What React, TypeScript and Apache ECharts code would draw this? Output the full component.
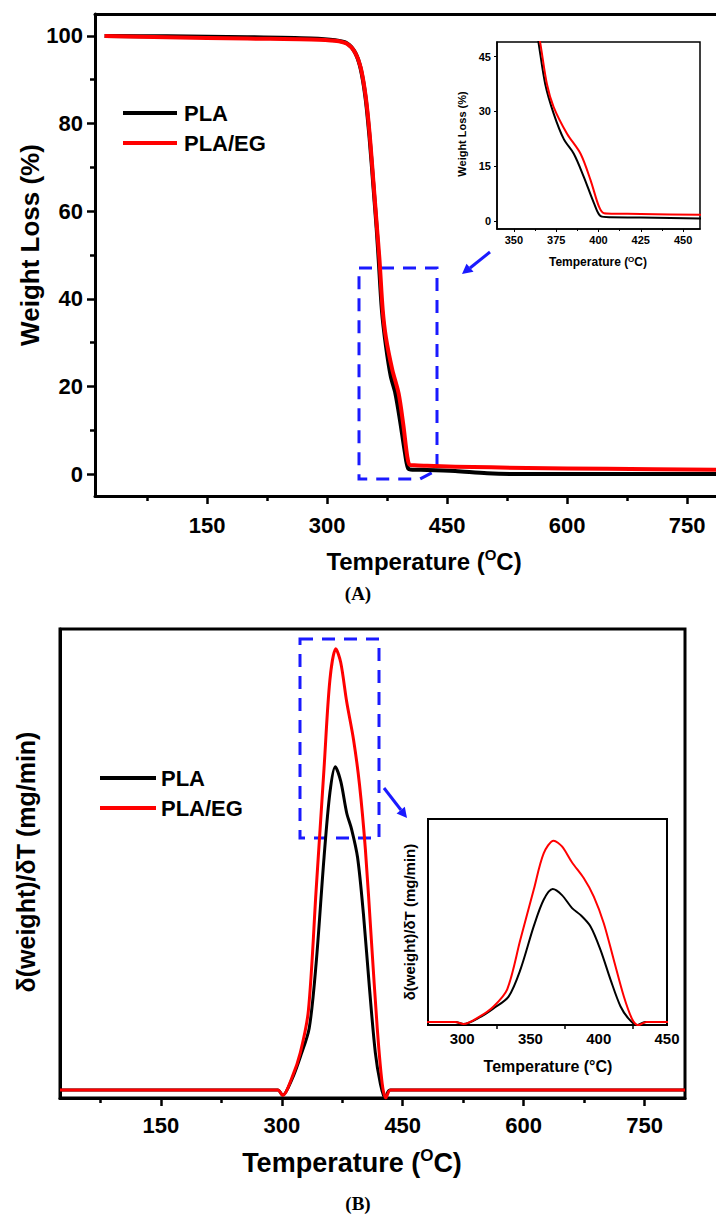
import React, { useEffect, useRef } from "react";
import * as echarts from "echarts";

// ---------- Data (A) TGA: weight loss (%) vs temperature (°C) ----------
const tgaTempPLA = [22, 100, 200, 280, 310, 325, 335, 342, 348, 353, 358, 362, 364.5, 368.5, 373.5, 379.5, 385.4, 391.3, 397.3, 401.3, 407, 425, 460, 500, 550, 650, 786];
const tgaPLA = [100, 99.9, 99.7, 99.4, 99.0, 98.3, 96.2, 92.5, 86, 77, 65.5, 56, 49, 37.5, 29.4, 22.4, 18.4, 12.1, 4.9, 1.3, 1.0, 0.95, 0.7, 0.2, 0, 0, 0];
const tgaTempEG = [22, 100, 200, 280, 310, 325, 335, 342, 348, 353, 358, 362, 365.5, 369.5, 373.5, 381.4, 389.4, 395.3, 400.3, 403.3, 409, 425, 460, 550, 650, 786];
const tgaEG = [100, 99.7, 99.4, 99.2, 98.9, 98.2, 96.2, 92.8, 86.5, 78, 66.5, 57, 48.9, 37.5, 31.2, 23.9, 18.4, 11.2, 3.9, 2.1, 2.0, 1.9, 1.7, 1.4, 1.2, 1.0];

// ---------- Data (B) DTG: d(weight)/dT (arb. units) vs temperature ----------
const dtgTempPLA = [25, 150, 295, 301, 313, 323, 334, 342.6, 352.4, 359.7, 366.3, 373.1, 380.5, 386.6, 394, 401.3, 408.7, 416, 422.2, 428, 434, 500, 800];
const dtgPLA = [0, 0, 0, -0.012, 0.026, 0.075, 0.14, 0.287, 0.527, 0.674, 0.733, 0.70, 0.628, 0.591, 0.527, 0.398, 0.232, 0.085, 0.015, -0.018, 0, 0, 0];
const dtgTempEG = [25, 150, 295, 301, 313, 323, 333, 342.6, 352.4, 359.7, 367, 373.1, 380.5, 389, 396.4, 403.7, 411, 418.4, 424.5, 429, 435, 500, 800];
const dtgEG = [0, 0, 0, -0.012, 0.03, 0.085, 0.18, 0.453, 0.729, 0.93, 1.0, 0.969, 0.88, 0.794, 0.692, 0.545, 0.343, 0.14, 0.015, -0.018, 0, 0, 0];

// ---------- Tick values ----------
const mainXLabels = [150, 300, 450, 600, 750];
const mainXMinor = [75, 225, 375, 525, 675];
const aYLabels = [0, 20, 40, 60, 80, 100];
const aYMinor = [10, 30, 50, 70, 90];
const aInsetXLabels = [350, 375, 400, 425, 450];
const aInsetXMinor = [362.5, 387.5, 412.5, 437.5];
const aInsetYLabels = [0, 15, 30, 45];
const bInsetXLabels = [300, 350, 400, 450];
const bInsetXMinor = [325, 375, 425];

const seriesNames = ["PLA", "PLA/EG"];
const colors = ["#000000", "#ff0000"];

const FONT = "Liberation Sans, Arial, Helvetica, sans-serif";
const SERIF = "Liberation Serif, Times New Roman, serif";
const BLUE = "#1a1aff";

const zip = (xs: number[], ys: number[]) => xs.map((x, i) => [x, ys[i]]);

function valueAxis(extra: any) {
  return {
    type: "value",
    splitLine: { show: false },
    axisLine: { show: true, onZero: false, lineStyle: { color: "#000", width: 3 } },
    axisTick: { show: false },
    axisLabel: { show: false },
    ...extra,
  };
}
const hiddenLine = { show: false, onZero: false };
const line = (w: number) => ({ show: true, onZero: false, lineStyle: { color: "#000", width: w } });

export default function App() {
  const ref = useRef<HTMLDivElement>(null);
  useEffect(() => {
    const chart = echarts.init(ref.current!, null, { renderer: "svg" });
    const lbl = (size: number, values: number[], margin: number) => ({
      show: true,
      customValues: values,
      fontSize: size,
      fontWeight: "bold",
      fontFamily: FONT,
      color: "#000",
      margin,
    });
    const tick = (values: number[], length: number, width: number) => ({
      show: true,
      customValues: values,
      length,
      lineStyle: { color: "#000", width },
    });
    const supTitle = (x: number, y: number, size: number, sup: number) => ({
      type: "text",
      x,
      y,
      style: {
        text: "{a|Temperature (}{b|O}{a|C)}",
        align: "center",
        verticalAlign: "middle",
        rich: {
          a: { fontSize: size, fontWeight: "bold", fontFamily: FONT, fill: "#000", lineHeight: Math.round(size * 1.2) },
          b: { fontSize: sup, fontWeight: "bold", fontFamily: FONT, fill: "#000", verticalAlign: "top", lineHeight: sup },
        },
      },
    });

    const option: any = {
      animation: false,
      backgroundColor: "#fff",
      grid: [
        { left: 95, top: 14, width: 621, height: 482 },
        { left: 497, top: 42, width: 203, height: 187, show: true, borderColor: "#000", borderWidth: 1.5, backgroundColor: "#fff" },
        { left: 60, top: 629, width: 625, height: 469, show: true, borderColor: "#000", borderWidth: 3 },
        { left: 428, top: 819, width: 239, height: 206, show: true, borderColor: "#000", borderWidth: 2, backgroundColor: "#fff" },
      ],
      xAxis: [
        valueAxis({ gridIndex: 0, min: 10, max: 786, position: "bottom", axisTick: tick(mainXLabels, 8, 2.5), axisLabel: lbl(22, mainXLabels, 18) }),
        valueAxis({ gridIndex: 0, min: 10, max: 786, position: "bottom", axisLine: hiddenLine, axisTick: tick(mainXMinor, 5, 2.5) }),
        valueAxis({ gridIndex: 0, min: 10, max: 786, position: "top" }),
        valueAxis({ gridIndex: 1, min: 340, max: 460, position: "bottom", axisLine: line(1.5), axisTick: tick(aInsetXLabels, 3, 1), axisLabel: lbl(11, aInsetXLabels, 5) }),
        valueAxis({ gridIndex: 1, min: 340, max: 460, position: "bottom", axisLine: hiddenLine, axisTick: tick(aInsetXMinor, 2, 1) }),
        valueAxis({ gridIndex: 2, min: 25, max: 800, position: "bottom", axisTick: tick(mainXLabels, 8, 2.5), axisLabel: lbl(22, mainXLabels, 16) }),
        valueAxis({ gridIndex: 2, min: 25, max: 800, position: "bottom", axisLine: hiddenLine, axisTick: tick(mainXMinor, 5, 2.5) }),
        valueAxis({ gridIndex: 3, min: 275, max: 450, position: "bottom", axisLine: line(2), axisTick: tick(bInsetXMinor, 4, 1.5), axisLabel: lbl(15, bInsetXLabels, 6) }),
      ],
      yAxis: [
        valueAxis({ gridIndex: 0, min: -5, max: 105, position: "left", axisTick: tick(aYLabels, 8, 2.5), axisLabel: lbl(22, aYLabels, 12) }),
        valueAxis({ gridIndex: 0, min: -5, max: 105, position: "left", axisLine: hiddenLine, axisTick: tick(aYMinor, 5, 2.5) }),
        valueAxis({ gridIndex: 1, min: -2.2, max: 49, position: "left", axisLine: line(1.5), axisTick: tick(aInsetYLabels, 3, 1), axisLabel: lbl(11, aInsetYLabels, 6) }),
        valueAxis({ gridIndex: 2, min: -0.018, max: 1.045, position: "left" }),
        valueAxis({ gridIndex: 3, min: -0.017, max: 1.12, position: "left", axisLine: line(2) }),
      ],
      legend: [
        {
          data: seriesNames, orient: "vertical", left: 123, top: 102, padding: 0, itemGap: 8,
          icon: "rect", itemWidth: 54, itemHeight: 4, itemStyle: { borderWidth: 0 },
          textStyle: { fontSize: 22, fontWeight: "bold", fontFamily: FONT, color: "#000", padding: [0, 0, 0, 2] },
          selectedMode: false,
        },
        {
          data: seriesNames, orient: "vertical", left: 100, top: 767, padding: 0, itemGap: 8,
          icon: "rect", itemWidth: 56, itemHeight: 4, itemStyle: { borderWidth: 0 },
          textStyle: { fontSize: 22, fontWeight: "bold", fontFamily: FONT, color: "#000" },
          selectedMode: false,
        },
      ],
      series: [
        { name: seriesNames[0], xAxisIndex: 0, yAxisIndex: 0, data: zip(tgaTempPLA, tgaPLA), w: 4, c: colors[0] },
        { name: seriesNames[1], xAxisIndex: 0, yAxisIndex: 0, data: zip(tgaTempEG, tgaEG), w: 4, c: colors[1] },
        { name: seriesNames[0], xAxisIndex: 3, yAxisIndex: 2, data: zip(tgaTempPLA, tgaPLA), w: 2, c: colors[0] },
        { name: seriesNames[1], xAxisIndex: 3, yAxisIndex: 2, data: zip(tgaTempEG, tgaEG), w: 2, c: colors[1] },
        { name: seriesNames[0], xAxisIndex: 5, yAxisIndex: 3, data: zip(dtgTempPLA, dtgPLA), w: 3, c: colors[0] },
        { name: seriesNames[1], xAxisIndex: 5, yAxisIndex: 3, data: zip(dtgTempEG, dtgEG), w: 3, c: colors[1] },
        { name: seriesNames[0], xAxisIndex: 7, yAxisIndex: 4, data: zip(dtgTempPLA, dtgPLA), w: 2, c: colors[0] },
        { name: seriesNames[1], xAxisIndex: 7, yAxisIndex: 4, data: zip(dtgTempEG, dtgEG), w: 2, c: colors[1] },
      ].map(({ w, c, ...s }) => ({
        ...s,
        type: "line",
        symbol: "none",
        smooth: 0.3,
        clip: true,
        lineStyle: { width: w, color: c, join: "round" },
        itemStyle: { color: c },
      })),
      graphic: [
        // dashed zoom boxes
        { type: "polygon", shape: { points: [[359, 268], [437, 268], [437, 470], [420, 479], [359, 479]] }, style: { fill: "transparent", stroke: BLUE, lineWidth: 3, lineDash: [13, 9] } },
        { type: "polygon", shape: { points: [[300, 639], [379, 639], [379, 838], [300, 838]] }, style: { fill: "transparent", stroke: BLUE, lineWidth: 3, lineDash: [13, 9] } },
        // arrows
        { type: "line", shape: { x1: 490, y1: 252, x2: 470, y2: 268 }, style: { stroke: BLUE, lineWidth: 3 } },
        { type: "polygon", shape: { points: [[462, 274], [473.5, 271.8], [466.5, 263.8]] }, style: { fill: BLUE } },
        { type: "line", shape: { x1: 384, y1: 788, x2: 401, y2: 810 }, style: { stroke: BLUE, lineWidth: 3 } },
        { type: "polygon", shape: { points: [[407, 818], [404.8, 806.8], [396.6, 813.5]] }, style: { fill: BLUE } },
        // axis titles (A)
        { type: "text", x: 30, y: 245, rotation: Math.PI / 2, style: { text: "Weight Loss (%)", fontSize: 26, fontWeight: "bold", fontFamily: FONT, fill: "#000", align: "center", verticalAlign: "middle" } },
        supTitle(424, 561, 24, 15),
        { type: "text", x: 462, y: 134, rotation: Math.PI / 2, style: { text: "Weight Loss (%)", fontSize: 11, fontWeight: "bold", fontFamily: FONT, fill: "#000", align: "center", verticalAlign: "middle" } },
        supTitle(598, 262, 12, 8),
        // axis titles (B)
        { type: "text", x: 26, y: 862, rotation: Math.PI / 2, style: { text: "δ(weight)/δT (mg/min)", fontSize: 25, fontWeight: "bold", fontFamily: FONT, fill: "#000", align: "center", verticalAlign: "middle" } },
        supTitle(352, 1163, 27, 17),
        { type: "text", x: 409, y: 922, rotation: Math.PI / 2, style: { text: "δ(weight)/δT (mg/min)", fontSize: 15, fontWeight: "bold", fontFamily: FONT, fill: "#000", align: "center", verticalAlign: "middle" } },
        { type: "text", x: 548, y: 1066, style: { text: "Temperature (°C)", fontSize: 16, fontWeight: "bold", fontFamily: FONT, fill: "#000", align: "center", verticalAlign: "middle" } },
        // captions
        { type: "text", x: 358, y: 593, style: { text: "(A)", fontSize: 19, fontWeight: "bold", fontFamily: SERIF, fill: "#000", align: "center", verticalAlign: "middle" } },
        { type: "text", x: 358, y: 1203, style: { text: "(B)", fontSize: 19, fontWeight: "bold", fontFamily: SERIF, fill: "#000", align: "center", verticalAlign: "middle" } },
      ],
    };
    chart.setOption(option);
    return () => chart.dispose();
  }, []);
  return <div ref={ref} style={{ position: "absolute", left: 0, top: 0, width: 716, height: 1215, background: "#fff" }} />;
}
